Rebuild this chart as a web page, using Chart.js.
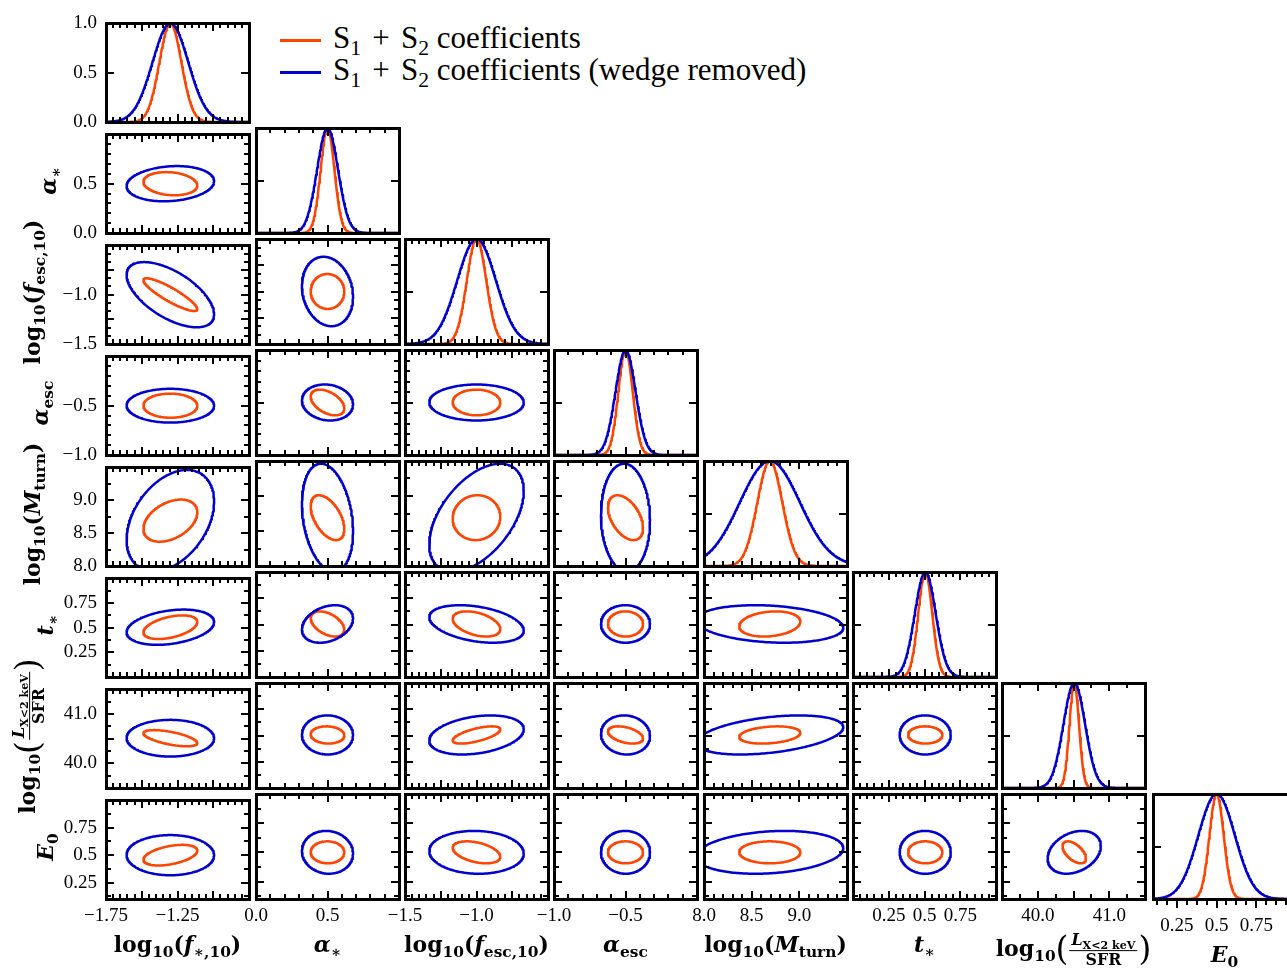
<!DOCTYPE html>
<html>
<head>
<meta charset="utf-8">
<script src="https://cdn.jsdelivr.net/npm/chart.js@4.4.1/dist/chart.umd.min.js"></script>
<style>
  html, body { margin: 0; padding: 0; background: #fff; overflow: hidden; }
  #fig { position: relative; width: 1287px; height: 970px; }
  .panel { position: absolute; }
  .xt, .yt {
    position: absolute; white-space: nowrap; color: #000;
    font-family: "DejaVu Serif", serif; font-weight: bold; font-size: 22px;
  }
  .xt { transform: translate(-50%, -50%); }
  .yt { transform: translate(-50%, -50%) rotate(-90deg); }
  .xt sub, .yt sub, .leg sub { font-size: 70%; vertical-align: -0.32em; line-height: 0; }
  .pa { font-weight: normal; font-size: 150%; vertical-align: -0.12em; }
  .fr { display: inline-block; vertical-align: middle; text-align: center; font-size: 72%; margin: 0 1px; }
  .fr > span { display: block; line-height: 1.15; }
  .fr > span:first-child { border-bottom: 1.3px solid #000; padding: 0 2px; }
  .leg { position: absolute; left: 333px; font-family: "Liberation Serif", serif; font-size: 31px; line-height: 31px; white-space: nowrap; }
  .leg .op { margin: 0 0.36em; }
  .legline { position: absolute; left: 280px; width: 41px; height: 2.5px; }
</style>
</head>
<body>
<div id="fig"></div>
<script>
// parameters, in corner-plot order
const paramLabels = [
  'log<sub>10</sub>(<i>f</i><sub>∗,10</sub>)',
  '<i>α</i><sub>∗</sub>',
  'log<sub>10</sub>(<i>f</i><sub>esc,10</sub>)',
  '<i>α</i><sub>esc</sub>',
  'log<sub>10</sub>(<i>M</i><sub>turn</sub>)',
  '<i>t</i><sub>∗</sub>',
  'log<sub>10</sub><span class="pa">(</span><span class="fr"><span><i>L</i><sub>X&lt;2 keV</sub></span><span>SFR</span></span><span class="pa">)</span>',
  '<i>E</i><sub>0</sub>'
];
const axisMin = [-1.75, 0.0, -1.5, -1.0, 8.0, 0.0, 39.5, 0.1];
const axisMax = [-0.75, 1.0, -0.5, 0.0, 9.5, 1.0, 41.5, 1.0];
const tickLabels = [
  [-1.75, -1.25], [0.0, 0.5], [-1.5, -1.0], [-1.0, -0.5],
  [8.0, 8.5, 9.0], [0.25, 0.5, 0.75], [40.0, 41.0], [0.25, 0.5, 0.75]
];

// posterior summaries
const means   = [-1.30, 0.50, -1.00, -0.50, 8.69, 0.505, 40.51, 0.50];
const sigRed  = [0.077, 0.048, 0.068, 0.050, 0.131, 0.049, 0.067, 0.0385];
const sigBlue = [0.125, 0.073, 0.135, 0.070, 0.315, 0.073, 0.152, 0.075];
const margSigRed  = [0.077, 0.048, 0.068, 0.050, 0.131, 0.049, 0.067, 0.045];
const margSigBlue = [0.125, 0.073, 0.135, 0.070, 0.315, 0.073, 0.152, 0.115];
// correlation of row parameter with each earlier column parameter
const corrRed = [
  [],
  [-0.15],
  [-0.88, 0.0],
  [0.0, -0.45, 0.0],
  [0.40, -0.50, 0.05, -0.45],
  [0.45, -0.45, -0.40, 0.0, 0.20],
  [-0.60, -0.05, 0.65, -0.40, 0.25, 0.0],
  [0.45, 0.0, -0.40, 0.0, 0.0, 0.0, -0.55]
];
const corrBlue = [
  [],
  [0.15],
  [-0.60, -0.15],
  [0.0, -0.10, 0.0],
  [0.38, -0.25, 0.50, -0.05],
  [0.30, 0.30, -0.35, 0.0, -0.20],
  [0.0, 0.0, 0.30, -0.05, 0.40, 0.0],
  [0.0, -0.05, -0.05, 0.0, 0.20, 0.0, 0.30]
];
const seriesNames = [
  'S<sub>1</sub><span class="op">+</span>S<sub>2</sub> coefficients',
  'S<sub>1</sub><span class="op">+</span>S<sub>2</sub> coefficients (wedge removed)'
];
const seriesColors = ['#ff4500', '#0000cd'];

// minor/major tick spacing per parameter
const xTickStep = [0.25, 0.5, 0.25, 0.5, 0.5, 0.25, 0.5, 0.25];
const xTickDivs = [5, 5, 5, 5, 5, 5, 2, 4];
const yTickStep = [0.5, 0.5, 0.25, 0.5, 0.5, 0.25, 0.5, 0.25];
const yTickDivs = [1, 5, 3, 5, 2, 2, 2, 2];

// grid geometry
const colLeft = [106, 256, 405, 554, 704, 853, 1002, 1153];
const rowTop = [17, 128, 239, 350, 461, 572, 683, 794];
const PW = 143, PH = 105;
const PAD = { l: 70, r: 14, t: 14, b: 46 };
const MAJ = 8, MIN = 5;
const K95 = Math.sqrt(-2 * Math.log(0.05));
const N = means.length;
const tickFont = { family: 'Liberation Serif', size: 19 };

const fig = document.getElementById('fig');

function fmt(v) {
  const s = Math.abs(v * 10 - Math.round(v * 10)) < 1e-6 ? Math.abs(v).toFixed(1) : Math.abs(v).toFixed(2);
  return (v < 0 ? '\u2212' : '') + s;
}

function tickSet(lo, hi, step, divs) {
  const minorStep = step / divs;
  const out = [];
  const k0 = Math.ceil(lo / minorStep - 1e-6);
  const k1 = Math.floor(hi / minorStep + 1e-6);
  for (let k = k0; k <= k1; k++) {
    const v = k * minorStep;
    if (Math.abs(v - lo) < 1e-6 || Math.abs(v - hi) < 1e-6) continue;
    const r = v / step;
    out.push({ v, major: Math.abs(r - Math.round(r)) < 1e-6 });
  }
  return out;
}

function ellipse(px, py, sig, rho) {
  const pts = [], r = Math.sqrt(1 - rho * rho);
  for (let k = 0; k <= 240; k++) {
    const t = 2 * Math.PI * k / 240;
    pts.push({
      x: means[px] + K95 * sig[px] * Math.cos(t),
      y: means[py] + K95 * sig[py] * (rho * Math.cos(t) + r * Math.sin(t))
    });
  }
  return pts;
}

function marginal(p, sig) {
  const lo = axisMin[p], hi = axisMax[p], pts = [{ x: means[p], y: 1 }];
  for (let k = 0; k <= 240; k++) {
    const x = lo + (hi - lo) * k / 240;
    pts.push({ x, y: Math.exp(-0.5 * ((x - means[p]) / sig[p]) ** 2) });
  }
  return pts.sort((a, b) => a.x - b.x);
}

// spines and inward ticks; tick positions hang off the canvas element
const framePlugin = {
  id: 'frame',
  afterDraw(chart) {
    const o = chart.canvas.frameSpec;
    const ctx = chart.ctx, a = chart.chartArea;
    const sx = chart.scales.x, sy = chart.scales.y;
    const L = Math.round(a.left), R = Math.round(a.right);
    const T = Math.round(a.top), B = Math.round(a.bottom);
    ctx.save();
    ctx.fillStyle = '#000';
    for (const t of o.x) {
      const px = Math.round(sx.getPixelForValue(t.v)) - 1;
      const len = t.major ? MAJ : MIN;
      if (o.top) ctx.fillRect(px, T, 2, len);
      if (o.bottomOut) ctx.fillRect(px, B, 2, len + 1);
      else ctx.fillRect(px, B - len, 2, len);
    }
    for (const t of o.y) {
      const py = Math.round(sy.getPixelForValue(t.v)) - 1;
      const len = t.major ? MAJ : MIN;
      ctx.fillRect(L, py, len, 2);
      ctx.fillRect(R - len, py, len, 2);
    }
    ctx.fillRect(L - 1, T - 1, R - L + 3, 3);
    ctx.fillRect(L - 1, B - 1, R - L + 3, 3);
    ctx.fillRect(L - 1, T - 1, 3, B - T + 3);
    ctx.fillRect(R - 1, T - 1, 3, B - T + 3);
    ctx.restore();
  }
};

function axisOpts(axis, lo, hi, labels, show, pad) {
  return {
    type: 'linear', min: lo, max: hi, bounds: 'data',
    grid: { display: false, drawTicks: false }, border: { display: false },
    ticks: {
      display: show, autoSkip: false, maxRotation: 0, padding: pad,
      color: '#000', font: tickFont, callback: v => fmt(v)
    },
    afterBuildTicks: s => { s.ticks = labels.map(v => ({ value: v })); },
    afterFit: s => { if (axis === 'x') s.height = PAD.b; else s.width = PAD.l; }
  };
}

function makePanel(row, col) {
  const wrap = document.createElement('div');
  wrap.className = 'panel';
  wrap.style.left = (colLeft[col] - PAD.l) + 'px';
  wrap.style.top = (rowTop[row] - PAD.t) + 'px';
  const cv = document.createElement('canvas');
  cv.width = PW + PAD.l + PAD.r;
  cv.height = PH + PAD.t + PAD.b;
  wrap.appendChild(cv);
  fig.appendChild(wrap);

  const diag = row === col;
  const lastDiag = diag && col === N - 1;
  const line = (data, color) => ({
    data, showLine: true, borderColor: color, borderWidth: 2.5,
    borderCapStyle: 'round', borderJoinStyle: 'round', pointRadius: 0, fill: false
  });
  let datasets, yScale, yTicks;
  if (diag) {
    datasets = [line(marginal(col, margSigBlue), seriesColors[1]), line(marginal(col, margSigRed), seriesColors[0])];
    yScale = axisOpts('y', 0, 1, [0.0, 0.5, 1.0], col === 0, 9);
    yTicks = tickSet(0, 1, 0.5, 1);
  } else {
    datasets = [
      line(ellipse(col, row, sigBlue, corrBlue[row][col]), seriesColors[1]),
      line(ellipse(col, row, sigRed, corrRed[row][col]), seriesColors[0])
    ];
    yScale = axisOpts('y', axisMin[row], axisMax[row], tickLabels[row], col === 0, 9);
    yTicks = tickSet(axisMin[row], axisMax[row], yTickStep[row], yTickDivs[row]);
  }
  const xTicks = tickSet(axisMin[col], axisMax[col], xTickStep[col], xTickDivs[col]);
  cv.frameSpec = { x: xTicks, y: yTicks, top: !lastDiag, bottomOut: lastDiag };

  new Chart(cv, {
    type: 'scatter',
    data: { datasets },
    options: {
      responsive: false, animation: false, devicePixelRatio: 1,
      layout: { padding: { top: PAD.t, right: PAD.r, left: 0, bottom: 0 } },
      events: [],
      plugins: { legend: { display: false }, tooltip: { enabled: false } },
      scales: {
        x: axisOpts('x', axisMin[col], axisMax[col], tickLabels[col], row === N - 1, lastDiag ? 16 : 6),
        y: yScale
      }
    },
    plugins: [framePlugin]
  });
}

for (let r = 0; r < N; r++) for (let c = 0; c <= r; c++) makePanel(r, c);

// axis titles
const yTitleX = [0, 48, 32, 40, 32, 45, 28, 45];
paramLabels.forEach((html, p) => {
  const xt = document.createElement('div');
  xt.className = 'xt';
  xt.innerHTML = html;
  xt.style.left = (colLeft[p] + PW / 2) + 'px';
  xt.style.top = (p === 7 ? 954 : p === 6 ? 949 : 944) + 'px';
  fig.appendChild(xt);
  if (p > 0) {
    const yt = document.createElement('div');
    yt.className = 'yt';
    yt.innerHTML = html;
    yt.style.left = yTitleX[p] + 'px';
    yt.style.top = (rowTop[p] + PH / 2) + 'px';
    fig.appendChild(yt);
  }
});

// legend
seriesNames.forEach((name, i) => {
  const ln = document.createElement('div');
  ln.className = 'legline';
  ln.style.top = (39 + 32 * i) + 'px';
  ln.style.background = seriesColors[i];
  fig.appendChild(ln);
  const tx = document.createElement('div');
  tx.className = 'leg';
  tx.innerHTML = name;
  tx.style.top = (22 + 32 * i) + 'px';
  fig.appendChild(tx);
});
</script>
</body>
</html>
